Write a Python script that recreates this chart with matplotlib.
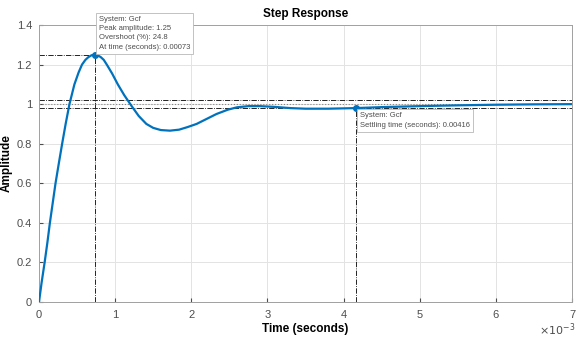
import matplotlib
matplotlib.use("Agg")
import matplotlib.pyplot as plt

plt.rcParams['font.family'] = ['Liberation Sans', 'DejaVu Sans']

# Step response readings (time in ms, amplitude)
t_ms = [0, 0.035, 0.074, 0.11, 0.143, 0.18, 0.217, 0.26, 0.304, 0.35, 0.4, 0.465, 0.52,
        0.565, 0.61, 0.65, 0.69, 0.73, 0.77, 0.81, 0.85, 0.89, 0.96, 1.035, 1.12, 1.217,
        1.31, 1.41, 1.5, 1.6, 1.72, 1.84, 1.95, 2.07, 2.2, 2.33, 2.48, 2.6, 2.75,
        2.9, 3.1, 3.3, 3.5, 3.8, 4.16, 4.5, 5.0, 5.5, 6.0, 6.5, 7.0]
amp = [0, 0.1, 0.2, 0.3, 0.4, 0.5, 0.6, 0.7, 0.8, 0.9, 1.0, 1.1, 1.16,
       1.2, 1.224, 1.238, 1.247, 1.25, 1.247, 1.238, 1.224, 1.2, 1.155, 1.1, 1.045, 0.99,
       0.94, 0.9, 0.88, 0.869, 0.866, 0.871, 0.884, 0.9, 0.925, 0.95, 0.972, 0.984, 0.99,
       0.99, 0.986, 0.98, 0.977, 0.977, 0.98, 0.985, 0.99, 0.994, 0.997, 0.999, 1.0]

peak_t, peak_amp, overshoot = 0.73, 1.25, 24.8
settle_t, settle_amp = 4.16, 0.98
band = [0.98, 1.02]
final_value = 1.0

x_ticks = [0, 1, 2, 3, 4, 5, 6, 7]
y_ticks = [0, 0.2, 0.4, 0.6, 0.8, 1, 1.2, 1.4]
y_labels = ["0", "0.2", "0.4", "0.6", "0.8", "1", "1.2", "1.4"]

blue = "#0072BD"
gray = "#4d4d4d"

fig = plt.figure(figsize=(5.76, 3.39), dpi=100)
ax = fig.add_axes([39/576, 1-302/339, 533/576, 277/339])
ax.set_xlim(0, 7)
ax.set_ylim(0, 1.4)

ax.plot(t_ms, amp, color=blue, lw=1.6, zorder=3, solid_joinstyle="round")

# characteristic lines
ax.plot([0, peak_t], [peak_amp, peak_amp], color="k", ls="-.", lw=0.6, zorder=2)
ax.plot([peak_t, peak_t], [0, peak_amp], color="k", ls="-.", lw=0.6, zorder=2)
ax.plot([settle_t, settle_t], [0, settle_amp], color="k", ls="-.", lw=0.6, zorder=2)
for b in band:
    ax.axhline(b, color="k", ls="-.", lw=0.6, zorder=2)
ax.axhline(final_value, color="#888888", ls=":", lw=0.8, zorder=2)

ax.plot([peak_t], [peak_amp], "o", color=blue, ms=4, zorder=4)
ax.plot([settle_t], [settle_amp], "o", color=blue, ms=4, zorder=4)

ax.set_xticks(x_ticks)
ax.set_yticks(y_ticks)
ax.set_yticklabels(y_labels)
ax.tick_params(direction="in", length=3, colors=gray, labelsize=8, labelcolor=gray)
ax.tick_params(axis="x", pad=6)
ax.tick_params(axis="y", pad=5)
ax.grid(True, color="#e3e3e3", lw=0.7)
ax.set_axisbelow(True)
for s in ax.spines.values():
    s.set_color("#a0a0a0")
    s.set_linewidth(0.7)

ax.set_title("Step Response", fontsize=8.5, fontweight="bold", pad=6)
ax.set_xlabel("Time (seconds)", fontsize=8.5, fontweight="bold", labelpad=2)
ax.set_ylabel("Amplitude", fontsize=8.5, fontweight="bold", labelpad=3)

fig.text(575/576, 1-330/339, r"$\times10^{-3}$", fontsize=8, color=gray, va="center", ha="right")

bbox = dict(boxstyle="square,pad=0.4", fc="white", ec="#b8b8b8", lw=0.6)
ax.annotate("System: Gcf\nPeak amplitude: 1.25\nOvershoot (%): 24.8\nAt time (seconds): 0.00073",
            xy=(peak_t, peak_amp), xytext=(3, 3), textcoords="offset points",
            fontsize=5.5, color=gray, ha="left", va="bottom", bbox=bbox,
            linespacing=1.45, zorder=10, annotation_clip=False)
ax.annotate("System: Gcf\nSettling time (seconds): 0.00416",
            xy=(settle_t, settle_amp), xytext=(3, -3), textcoords="offset points",
            fontsize=5.5, color=gray, ha="left", va="top", bbox=bbox,
            linespacing=1.45, zorder=10)

fig.savefig("out.png", dpi=100)
